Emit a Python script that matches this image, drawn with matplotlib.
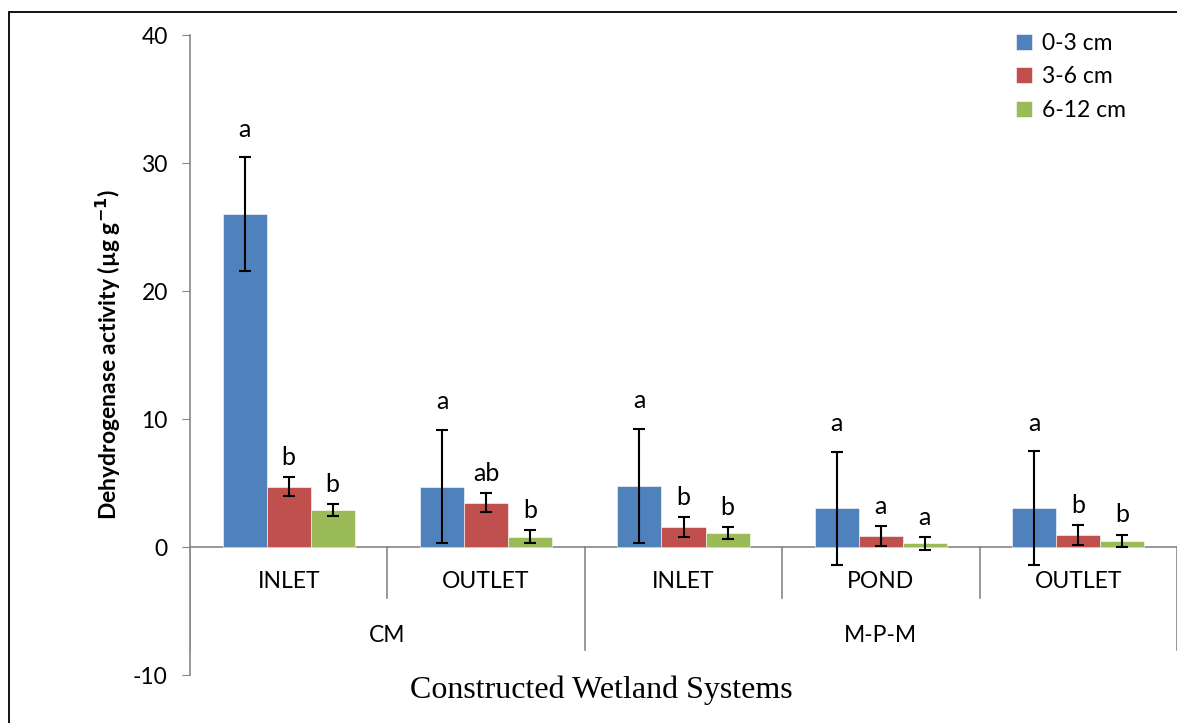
import matplotlib
matplotlib.use("Agg")
import matplotlib.pyplot as plt
from matplotlib.patches import Rectangle
import numpy as np

# ---- data ----
systems = ["CM", "M-P-M"]
sites = ["INLET", "OUTLET", "INLET", "POND", "OUTLET"]
site_system = [0, 0, 1, 1, 1]
depths = ["0-3 cm", "3-6 cm", "6-12 cm"]

mean_03 = [26.0, 4.71, 4.77, 3.02, 3.05]
mean_36 = [4.71, 3.46, 1.56, 0.86, 0.96]
mean_612 = [2.89, 0.81, 1.09, 0.29, 0.47]

err_03 = [4.45, 4.43, 4.45, 4.43, 4.43]
err_36 = [0.75, 0.76, 0.78, 0.77, 0.77]
err_612 = [0.47, 0.50, 0.45, 0.50, 0.50]

letters_03 = ["a", "a", "a", "a", "a"]
letters_36 = ["b", "ab", "b", "a", "b"]
letters_612 = ["b", "b", "b", "a", "b"]

colors = ["#4F81BD", "#C0504D", "#9BBB59"]
axis_gray = "#868686"

plt.rcParams['font.family'] = ['Lato', 'DejaVu Sans']
plt.rcParams['axes.unicode_minus'] = False

W, H = 1177, 723
fig = plt.figure(figsize=(W / 100, H / 100), dpi=100)

# outer border
fig.patches.append(Rectangle((9 / W, -0.05), 1.2, (H - 12) / H + 0.05,
                             transform=fig.transFigure, fill=False,
                             edgecolor="black", linewidth=1.3))

ax_left, ax_right = 190 / W, 1177 / W
ax_top, ax_bottom = 1 - 35 / H, 1 - 675 / H
ax = fig.add_axes([ax_left, ax_bottom, ax_right - ax_left, ax_top - ax_bottom])

n = len(sites)
x = np.arange(n) + 0.5
bw = 0.223
means = [mean_03, mean_36, mean_612]
errs = [err_03, err_36, err_612]
letters = [letters_03, letters_36, letters_612]
offsets = [12, 6, 6]

for i in range(3):
    xi = x + (i - 1) * bw
    ax.bar(xi, means[i], width=bw, color=colors[i], label=depths[i],
           edgecolor="white", linewidth=0.4, zorder=2)
    ax.errorbar(xi, means[i], yerr=errs[i], fmt="none", ecolor="black",
                elinewidth=1.5, capsize=4, capthick=1.5, zorder=3)
    for xx, m, e, l in zip(xi, means[i], errs[i], letters[i]):
        ax.annotate(l, (xx, m + e), xytext=(0, offsets[i]),
                    textcoords="offset points", ha="center", va="bottom",
                    fontsize=18)

ax.set_xlim(0, n)
ax.set_ylim(-10, 40)
ax.set_yticks([-10, 0, 10, 20, 30, 40])
ax.set_xticks([])
for s in ["top", "right", "bottom"]:
    ax.spines[s].set_visible(False)
ax.spines["left"].set_color(axis_gray)
ax.spines["left"].set_linewidth(1.2)
ax.tick_params(axis="y", direction="out", length=6, color=axis_gray,
               labelsize=16.5, pad=10)

# zero line
ax.axhline(0, color=axis_gray, linewidth=1.2, zorder=1)

# category and group dividers
for b in range(1, n + 1):
    if b == n or site_system[b - 1] != site_system[b]:
        y_end = -8.05
    else:
        y_end = -4.0
    ax.plot([b, b], [0, y_end], color=axis_gray, linewidth=1.2, clip_on=False)
ax.plot([0.002, 0.002], [0, -8.05], color=axis_gray, linewidth=1.2)

for xx, s in zip(x, sites):
    ax.text(xx, -2.73, s, ha="center", va="center", fontsize=16.5)

for g, name in enumerate(systems):
    idx = [k for k in range(n) if site_system[k] == g]
    ax.text((idx[0] + idx[-1] + 1) / 2, -6.9, name, ha="center", va="center",
            fontsize=16.5)

fig.text(108 / W, 1 - 355 / H, "Dehydrogenase activity (µg g$^{\\mathbf{-1}}$)",
         fontsize=16.5, fontweight="bold", rotation=90, ha="center", va="center")

fig.text(601 / W, 1 - 690 / H, "Constructed Wetland Systems",
         family="Liberation Serif", fontsize=23, ha="center", va="center")

leg = ax.legend(loc="upper left", bbox_to_anchor=(995 / W, 1 - 12 / H),
                bbox_transform=fig.transFigure, frameon=False, fontsize=16.5,
                handlelength=0.7, handleheight=0.7, handletextpad=0.45,
                labelspacing=0.55)

fig.savefig("out.png", dpi=100)
